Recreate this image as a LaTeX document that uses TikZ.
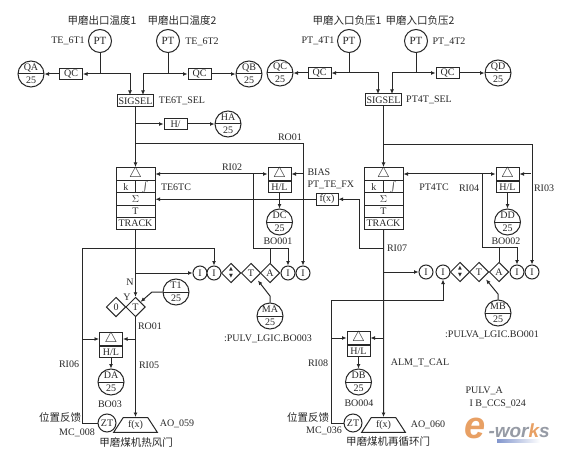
\documentclass[tikz,border=0pt]{standalone}
\usepackage{fontspec}
\setmainfont{Liberation Serif}
\newfontfamily\cjk{Noto Sans CJK SC}
\newfontfamily\logofont{Liberation Sans}
\newfontfamily\symfont{DejaVu Sans}
\usetikzlibrary{arrows.meta,shapes.geometric}
\definecolor{inkgray}{RGB}{40, 40, 40}
\definecolor{logoorange}{RGB}{232, 160, 100}
\definecolor{logogray}{RGB}{150, 155, 165}
\definecolor{logoblue}{RGB}{130, 150, 205}
\newcommand{\bigdelta}{\raisebox{-0.5pt}{\Large$\triangle$}}
\newcommand{\updown}{{\symfont\fontsize{5}{4.5}\selectfont\shortstack{▲\\▼}}}

% controller stack with six cells, #1 = name, #2 = x
\newcommand{\pidblock}[2]{
  \node[cell, minimum width=39, minimum height=13] (#1d) at (#2,174) {\bigdelta};
  \node[cell, minimum width=19.5, minimum height=12.5] (#1k) at (#2-9.75,186.75) {k};
  \node[cell, minimum width=19.5, minimum height=12.5] (#1i) at (#2+9.75,186.75) {$\int$};
  \node[cell, minimum width=39, minimum height=12.5] (#1s) at (#2,199.25) {$\Sigma$};
  \node[cell, minimum width=39, minimum height=12] (#1t) at (#2,211.5) {T};
  \node[cell, minimum width=39, minimum height=12] (#1tr) at (#2,223.5) {TRACK};
}
% alarm box with two cells, #1 = name, #2 = x,y of the upper cell
\newcommand{\hlblock}[2]{
  \node[cell, minimum width=23, minimum height=12] (#1) at (#2) {\bigdelta};
  \node[cell, minimum width=23, minimum height=11.5, anchor=north] (#1l) at (#1.south) {H/L};
}

\begin{document}
\begin{tikzpicture}[
    x=1pt, y=-1pt, line width=1pt, draw=inkgray, text=inkgray,
    >={Latex[length=4.5pt,width=4pt]},
    every node/.style={inner sep=0pt, font=\fontsize{10}{10}\selectfont},
    cell/.style={draw, rectangle, line width=1pt, fill=white},
    tagbox/.style={cell, minimum width=23, minimum height=11.5},
    selbox/.style={cell, minimum width=36, minimum height=12},
    sensor/.style={draw, circle, minimum size=23, fill=white, font=\fontsize{11}{11}\selectfont},
    tagball/.style={draw, circle, minimum size=26, fill=white, align=center,
      font=\fontsize{10}{13}\selectfont,
      path picture={\draw (path picture bounding box.west) -- (path picture bounding box.east);}},
    logicball/.style={draw, circle, minimum size=14, fill=white},
    logicgate/.style={draw, diamond, aspect=1, minimum size=19.5, fill=white},
    valve/.style={draw, trapezium, trapezium left angle=57, trapezium right angle=57, minimum width=44, minimum height=14, fill=white},
    cnlabel/.style={font=\cjk\fontsize{10.5}{10.5}\selectfont}
  ]
  \fill[white] (0,0) rectangle (561,454);
  \useasboundingbox (0,0) rectangle (561,454);

  % left hand side, top
  \node[sensor] (pta) at (100,41) {PT};
  \node[sensor] (ptb) at (168,41) {PT};
  \node[cnlabel] (tta) at (102,21) {甲磨出口温度1};
  \node[cnlabel] (ttb) at (182,21) {甲磨出口温度2};
  \node (lta) at (68,41) {TE\_6T1};
  \node (ltb) at (202,42) {TE\_6T2};
  \node[tagbox] (qca) at (71,74) {QC};
  \node[tagbox] (qcb) at (199.5,74) {QC};
  \node[tagball] (qa) at (31,74) {QA\\25};
  \node[tagball] (qb) at (249,74) {QB\\25};
  \node[selbox] (sela) at (135.5,101) {SIGSEL};
  \node (lsela) at (182,101) {TE6T\_SEL};
  \coordinate (jta) at (100,74);
  \coordinate (jtb) at (168,74);
  \coordinate (sia) at (130,95);
  \coordinate (sib) at (143,95);
  \draw (pta) -- (jta);
  \draw (ptb) -- (jtb);
  \draw[->] (jta) -- (qca);
  \draw[->] (qca) -- (qa);
  \draw[->] (jtb) -- (qcb);
  \draw[->] (qcb) -- (qb);
  \draw[->] (jta) -| (sia);
  \draw[->] (jtb) -| (sib);

  \node[tagbox] (hia) at (175.5,124) {H/};
  \node[tagball] (ha) at (228,124) {HA\\25};
  \coordinate (jha) at (135.5,124);
  \draw[->] (jha) -- (hia);
  \draw[->] (hia) -- (ha);

  % left hand side, controller
  \pidblock{pida}{135.5}
  \hlblock{hla}{279.5,174}
  \node[tagball] (dc) at (279.5,222) {DC\\25};
  \node[cell, minimum width=22, minimum height=12] (fxa) at (327,199.25) {f(x)};
  \node (ltca) at (176,187) {TE6TC};
  \node (lroa) at (290,137) {RO01};
  \node (lria) at (232,167) {RI02};
  \node[anchor=west] (lbia) at (307,172) {BIAS};
  \node[anchor=west] (lfxa) at (307,185) {PT\_TE\_FX};
  \node (lboa) at (278,241) {BO001};
  \coordinate (jroa) at (135.5,144);
  \coordinate (jbia) at (303,174);
  \coordinate (jria) at (253,174);
  \coordinate (jboa) at (270,248);
  \draw[->] (sela) -- (pidad);
  \draw[<->] (pidad) -- (hla);
  \draw[->] (hlal) -- (dc);
  \draw[->] (jbia) -- (hla);
  \draw[->] (fxa) -- (pidas);

  % left hand side, logic row
  \node[logicball] (lia) at (200,273) {I};
  \node[logicball] (lib) at (214,273) {I};
  \node[logicgate] (ldu) at (231,273) {\updown};
  \node[logicgate] (ldt) at (251,273) {T};
  \node[logicgate] (lda) at (270,273) {A};
  \node[logicball] (lic) at (288,273) {I};
  \node[logicball] (lid) at (303,273) {I};
  \node[tagball] (ma) at (270,316) {MA\\25};
  \node (lma) at (268,339) {:PULV\_LGIC.BO003};
  \coordinate (jma) at (270,296);
  \coordinate (jna) at (135.5,273);
  \draw[->] (jroa) -| (lid);
  \draw (jria) |- (jboa) -- (lda);
  \draw[->] (jboa) -| (lic);
  \draw[->] (jna) -- (lia);
  \draw[->, shorten >=3pt] (ma) -- (jma) -- (ldt.south east);

  % left hand side, bottom
  \node[logicgate] (dta) at (135.5,307) {T};
  \node[logicgate] (dza) at (116,307) {0};
  \node[tagball] (ta) at (176,292) {T1\\25};
  \node (lna) at (130,282) {N};
  \node (lya) at (127,297) {Y};
  \node (lrob) at (150,326) {RO01};
  \hlblock{hlc}{111,339}
  \node[tagball] (dab) at (111,382) {DA\\25};
  \node (lbob) at (110,404) {BO03};
  \node (lric) at (149,365) {RI05};
  \node (lrid) at (69,364) {RI06};
  \node[draw, circle, minimum size=18, fill=white] (zta) at (107,423) {ZT};
  \node[valve] (vla) at (135.5,425) {f(x)};
  \node[cnlabel] (lfba) at (60,417) {位置反馈};
  \node (lmca) at (77,433) {MC\_008};
  \node (laoa) at (177,424) {AO\_059};
  \node[cnlabel] (lvla) at (136,443) {甲磨煤机热风门};
  \coordinate (jta1) at (152,292);
  \coordinate (jzc) at (82,423);
  \coordinate (jzd) at (214,248);
  \coordinate (jhc) at (82,339);
  \coordinate (jhd) at (135.5,339);
  \draw[->] (pidatr) -- (dta);
  \draw[->] (dta) -- (vla);
  \draw[->] (ta) -- (jta1) -- (dta.north east);
  \draw[->] (zta) -- (jzc) |- (jzd) -- (lib);
  \draw[->] (jhc) -- (hlc);
  \draw[->] (jhd) -- (hlc);
  \draw[->] (hlcl) -- (dab);

  % right hand side, top
  \node[sensor] (ptc) at (349,41) {PT};
  \node[sensor] (ptd) at (416,41) {PT};
  \node[cnlabel] (ttc) at (347,21) {甲磨入口负压1};
  \node[cnlabel] (ttd) at (420,21) {甲磨入口负压2};
  \node (ltc) at (318,41) {PT\_4T1};
  \node (ltd) at (449,42) {PT\_4T2};
  \node[tagbox] (qcc) at (319.5,73) {QC};
  \node[tagbox] (qcd) at (447.5,73) {QC};
  \node[tagball] (qc) at (280,73) {QC\\25};
  \node[tagball] (qd) at (498,73) {QD\\25};
  \node[selbox] (selb) at (383.5,100) {SIGSEL};
  \node (lselb) at (429,100) {PT4T\_SEL};
  \coordinate (jtc) at (349,73);
  \coordinate (jtd) at (416,73);
  \coordinate (sic) at (378,94);
  \coordinate (sid) at (392,94);
  \draw (ptc) -- (jtc);
  \draw (ptd) -- (jtd);
  \draw[->] (jtc) -- (qcc);
  \draw[->] (qcc) -- (qc);
  \draw[->] (jtd) -- (qcd);
  \draw[->] (qcd) -- (qd);
  \draw[->] (jtc) -| (sic);
  \draw[->] (jtd) -| (sid);

  % right hand side, controller
  \pidblock{pidb}{383.5}
  \hlblock{hlb}{507.5,174}
  \node[tagball] (dd) at (507.5,222) {DD\\25};
  \node (ltcb) at (434,187) {PT4TC};
  \node (lrie) at (469,188) {RI04};
  \node (lrif) at (544,188) {RI03};
  \node (lbob2) at (506,241) {BO002};
  \node (lrig) at (397,248) {RI07};
  \coordinate (jrob) at (383.5,145);
  \coordinate (jbib) at (531,174);
  \coordinate (jrib) at (482,174);
  \coordinate (jbob) at (499,247);
  \coordinate (jfxb) at (383.5,248);
  \coordinate (jfxc) at (359,199.25);
  \draw[->] (selb) -- (pidbd);
  \draw[<->] (pidbd) -- (hlb);
  \draw[->] (hlbl) -- (dd);
  \draw[->] (jbib) -- (hlb);
  \draw[->] (jfxb) -| (jfxc) -- (fxa);

  % right hand side, logic row
  \node[logicball] (ria) at (426,272) {I};
  \node[logicball] (rib) at (443,272) {I};
  \node[logicgate] (rdu) at (460,272) {\updown};
  \node[logicgate] (rdt) at (479,272) {T};
  \node[logicgate] (rda) at (499,272) {A};
  \node[logicball] (ric) at (517,272) {I};
  \node[logicball] (rid) at (532,272) {I};
  \node[tagball] (mb) at (498,313) {MB\\25};
  \node (lmb) at (492,335) {:PULVA\_LGIC.BO001};
  \coordinate (jmb) at (498,294);
  \coordinate (jnb) at (383.5,272);
  \draw[->] (jrob) -| (rid);
  \draw (jrib) |- (jbob) -- (rda);
  \draw[->] (jbob) -| (ric);
  \draw[->] (jnb) -- (ria);
  \draw[->, shorten >=3pt] (mb) -- (jmb) -- (rdt.south east);

  % right hand side, bottom
  \hlblock{hld}{358.5,338}
  \node[tagball] (db) at (358.5,382) {DB\\25};
  \node (lbod) at (359,403) {BO004};
  \node (lrih) at (318,363) {RI08};
  \node (lalm) at (420,363) {ALM\_T\_CAL};
  \node[draw, circle, minimum size=18, fill=white] (ztb) at (353,423) {ZT};
  \node[valve] (vlb) at (383.5,425) {f(x)};
  \node[cnlabel] (lfbb) at (308,417) {位置反馈};
  \node (lmcb) at (324,431) {MC\_036};
  \node (laob) at (428,425) {AO\_060};
  \node[cnlabel] (lvlb) at (388,442) {甲磨煤机再循环门};
  \coordinate (jze) at (331,423);
  \coordinate (jzf) at (443,300);
  \coordinate (jhe) at (331,338);
  \coordinate (jhf) at (383.5,338);
  \draw[->] (pidbtr) -- (vlb);
  \draw[->] (ztb) -- (jze) |- (jzf) -- (rib);
  \draw[->] (jhe) -- (hld);
  \draw[->] (jhf) -- (hld);
  \draw[->] (hldl) -- (db);

  % caption and mark
  \node[anchor=west] (lpul) at (465,391) {PULV\_A};
  \node[anchor=west] (lccs) at (469,404) {I B\_CCS\_024};
  \node[text=logoorange, font=\logofont\bfseries\itshape\fontsize{38}{38}\selectfont] (loge) at (475,428) {e};
  \node[anchor=west, text=logogray, font=\logofont\bfseries\itshape\fontsize{19}{19}\selectfont] (logw) at (488,431) {-wor\textcolor{logoorange}{k}s};
  \shade[left color=logoblue, right color=white] (497,439.5) rectangle (540,442.5);
\end{tikzpicture}
\end{document}
